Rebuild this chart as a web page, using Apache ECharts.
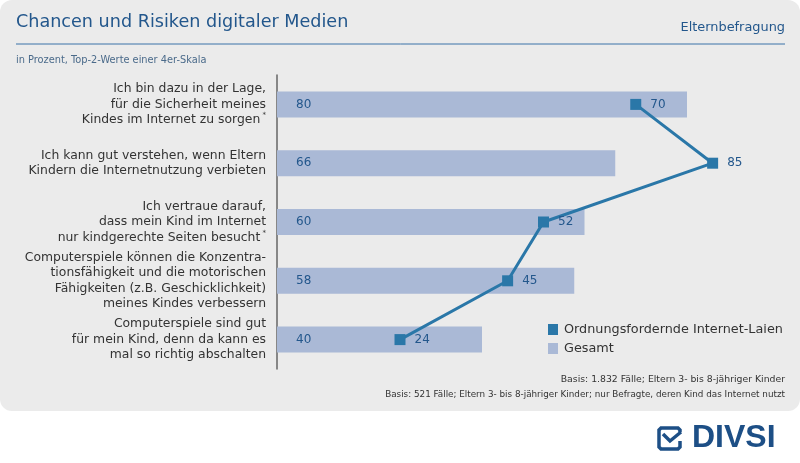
<!DOCTYPE html>
<html>
<head>
<meta charset="utf-8">
<script src="https://cdn.jsdelivr.net/npm/echarts@6/dist/echarts.min.js"></script>
<style>
  html, body { margin: 0; padding: 0; background: #fff; }
  #main { width: 800px; height: 463px; }
</style>
</head>
<body>
<div id="main"></div>
<script>
// Aussagen (Kategorien), von oben nach unten
const categories = [
    'Ich bin dazu in der Lage,\nfür die Sicherheit meines\nKindes im Internet zu sorgen{s| *}',
    'Ich kann gut verstehen, wenn Eltern\nKindern die Internetnutzung verbieten',
    'Ich vertraue darauf,\ndass mein Kind im Internet\nnur kindgerechte Seiten besucht{s| *}',
    'Computerspiele können die Konzentra-\ntionsfähigkeit und die motorischen\nFähigkeiten (z.B. Geschicklichkeit)\nmeines Kindes verbessern',
    'Computerspiele sind gut\nfür mein Kind, denn da kann es\nmal so richtig abschalten'
];
const gesamt = [80, 66, 60, 58, 40];
const laien = [70, 85, 52, 45, 24];

const blue = '#2a77a8';
const textBlue = '#23578c';
const logoBlue = '#1d4f86';
const font = '"DejaVu Sans", sans-serif';

const chart = echarts.init(document.getElementById('main'));

const option = {
    backgroundColor: '#ffffff',
    animation: false,
    textStyle: { fontFamily: font },
    graphic: [
        { type: 'rect', z: -10, shape: { x: 0, y: 0, width: 800, height: 411, r: 12 }, style: { fill: '#ebebeb' } },
        { type: 'text', left: 16, top: 13, style: { text: 'Chancen und Risiken digitaler Medien', fill: textBlue, font: '17.6px ' + font } },
        { type: 'text', right: 15, top: 21, style: { text: 'Elternbefragung', fill: textBlue, font: '12.9px ' + font } },
        { type: 'line', shape: { x1: 16, y1: 44, x2: 785, y2: 44 }, style: { stroke: '#3a72a8', lineWidth: 1 } },
        { type: 'text', left: 16, top: 55, style: { text: 'in Prozent, Top-2-Werte einer 4er-Skala', fill: '#4a6a8a', font: '9.8px ' + font } },
        { type: 'text', right: 15, top: 375, style: { text: 'Basis: 1.832 Fälle; Eltern 3- bis 8-jähriger Kinder', fill: '#333', font: '9.3px ' + font, align: 'right' } },
        { type: 'text', right: 15, top: 390, style: { text: 'Basis: 521 Fälle; Eltern 3- bis 8-jähriger Kinder; nur Befragte, deren Kind das Internet nutzt', fill: '#333', font: '8.8px ' + font, align: 'right' } },
        // DIVSI Logo
        { type: 'polyline', shape: { points: [[680, 441], [680, 447], [678, 449], [661, 449], [659, 447], [659, 430], [661, 428], [678, 428], [680, 430], [680, 432]] }, style: { fill: 'none', stroke: logoBlue, lineWidth: 3.5 } },
        { type: 'polyline', shape: { points: [[663, 434], [670, 441], [681, 432]] }, style: { fill: 'none', stroke: logoBlue, lineWidth: 3.5 } },
        { type: 'text', left: 692, top: 422, style: { text: 'DIVSI', fill: logoBlue, font: 'bold 32px "Liberation Sans", Arial, sans-serif' } }
    ],
    grid: { left: 277, right: 10.5, top: 75, bottom: 94 },
    legend: {
        orient: 'vertical',
        left: 548,
        top: 323,
        padding: 0,
        itemWidth: 10,
        itemHeight: 11,
        itemGap: 6,
        textStyle: { color: '#333', fontSize: 12.8, fontFamily: font, padding: [0, 0, 0, 1] },
        data: [
            { name: 'Ordnungsfordernde Internet-Laien', icon: 'rect' },
            { name: 'Gesamt', icon: 'rect' }
        ]
    },
    xAxis: {
        type: 'value',
        min: 0,
        max: 100,
        show: false
    },
    yAxis: {
        type: 'category',
        inverse: true,
        data: categories,
        axisLine: { show: true, lineStyle: { color: '#666', width: 1.5 } },
        axisTick: { show: false },
        axisLabel: {
            margin: 11,
            color: '#333',
            fontSize: 12.4,
            lineHeight: 15.5,
            align: 'right',
            fontFamily: font,
            rich: { s: { fontSize: 7, verticalAlign: 'top', color: '#333', lineHeight: 15.5 } }
        }
    },
    series: [
        {
            name: 'Gesamt',
            type: 'bar',
            data: gesamt,
            barWidth: 26,
            itemStyle: { color: '#aab9d6' },
            label: {
                show: true,
                position: 'insideLeft',
                distance: 19,
                color: textBlue,
                fontSize: 12,
                fontFamily: font
            }
        },
        {
            name: 'Ordnungsfordernde Internet-Laien',
            type: 'line',
            data: laien.map((v, i) => [v, i]),
            encode: { x: 0, y: 1 },
            z: 5,
            symbol: 'rect',
            symbolSize: 11,
            lineStyle: { color: blue, width: 3 },
            itemStyle: { color: blue },
            label: {
                show: true,
                position: 'right',
                distance: 9,
                color: textBlue,
                fontSize: 12,
                fontFamily: font,
                formatter: p => p.value[0]
            }
        }
    ]
};

chart.setOption(option);
</script>
</body>
</html>
